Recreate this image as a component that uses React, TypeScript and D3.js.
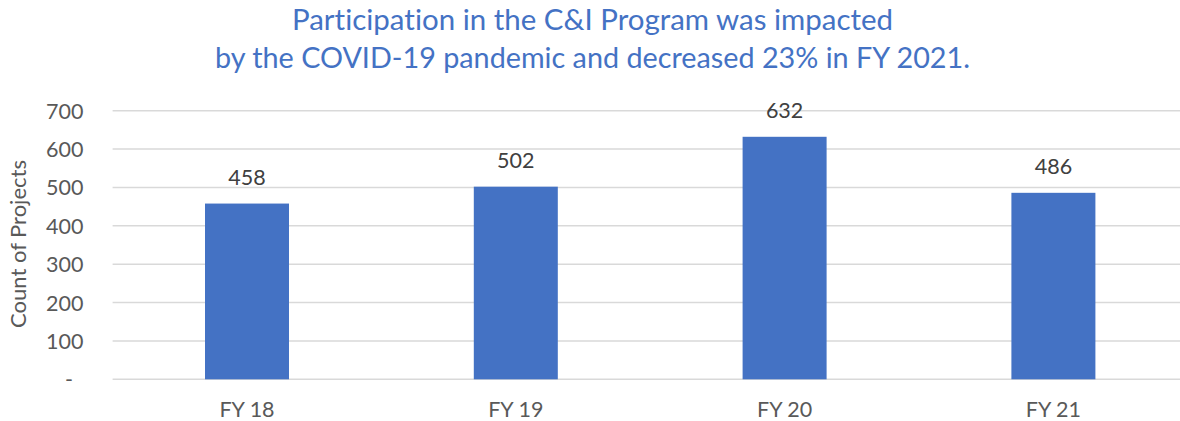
import React from "react";
import * as d3 from "d3";

const categories = ["FY 18", "FY 19", "FY 20", "FY 21"];
const values = [458, 502, 632, 486];
const yTicks = [0, 100, 200, 300, 400, 500, 600, 700];
const yTickLabels = ["-", "100", "200", "300", "400", "500", "600", "700"];
const titleLines = [
  "Participation in the C&I Program was impacted",
  "by the COVID-19 pandemic and decreased 23% in FY 2021.",
];
const yAxisTitle = "Count of Projects";

const W = 1180;
const H = 421;
const FONT = "Lato, 'Open Sans', sans-serif";

export default function App() {
  const y = d3.scaleLinear().domain([0, 700]).range([379.3, 110.7]);
  const x = d3
    .scaleBand<string>()
    .domain(categories)
    .range([112.6, 1187.8])
    .paddingInner(0.6875)
    .paddingOuter(0.34375);

  return (
    <svg
      width={W}
      height={H}
      style={{
        position: "absolute",
        left: 0,
        top: 0,
        background: "#fff",
        fontVariantLigatures: "none",
      }}
      fontFamily={FONT}
    >
      <rect x={0} y={0} width={W} height={H} fill="#fff" />
      {titleLines.map((t, i) => (
        <text
          key={i}
          x={592.5}
          y={30 + i * 38.3}
          textAnchor="middle"
          fontSize={28}
          fill="#4472C4"
          textLength={i === 0 ? 601 : 755}
          lengthAdjust="spacingAndGlyphs"
        >
          {t}
        </text>
      ))}
      {yTicks.map((t) => (
        <line
          key={t}
          x1={112.6}
          x2={W}
          y1={y(t)}
          y2={y(t)}
          stroke="#d9d9d9"
          strokeWidth={1.5}
        />
      ))}
      {yTicks.map((t, i) => (
        <text
          key={"l" + t}
          x={t === 0 ? 73 : 83.5}
          y={y(t) + 8}
          textAnchor="end"
          fontSize={21.5}
          fill="#595959"
        >
          {yTickLabels[i]}
        </text>
      ))}
      <text
        transform="translate(25.5,244) rotate(-90)"
        textAnchor="middle"
        fontSize={22}
        fill="#595959"
      >
        {yAxisTitle}
      </text>
      {categories.map((c, i) => (
        <g key={c}>
          <rect
            x={x(c)!}
            y={y(values[i])}
            width={x.bandwidth()}
            height={y(0) - y(values[i])}
            fill="#4472C4"
          />
          <text
            x={x(c)! + x.bandwidth() / 2}
            y={y(values[i]) - 18.5}
            textAnchor="middle"
            fontSize={21.5}
            fill="#404040"
          >
            {values[i]}
          </text>
          <text
            x={x(c)! + x.bandwidth() / 2}
            y={417}
            textAnchor="middle"
            fontSize={21.5}
            fill="#595959"
          >
            {c}
          </text>
        </g>
      ))}
    </svg>
  );
}
